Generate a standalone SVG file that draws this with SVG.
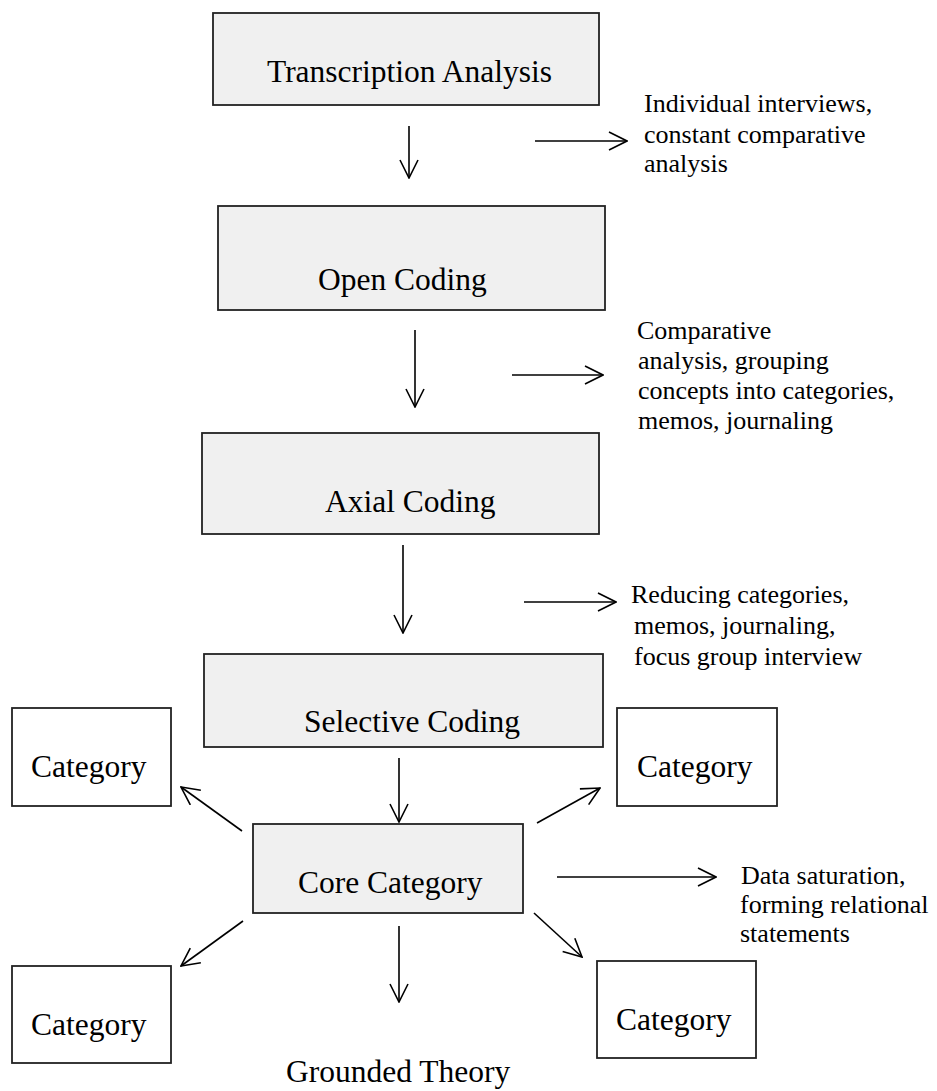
<svg xmlns="http://www.w3.org/2000/svg" width="937" height="1091" viewBox="0 0 937 1091">
<style>
.box{fill:#f0f0f0;stroke:#222;stroke-width:1.8}
.cat{fill:#fff;stroke:#222;stroke-width:1.8}
.big{font-family:"Liberation Serif","Times New Roman",serif;font-size:31.5px;fill:#000}
.sm{font-family:"Liberation Serif","Times New Roman",serif;font-size:26px;fill:#000}
.conn line{stroke:#000;stroke-width:1.6;fill:none;marker-end:url(#ah)}
</style>
<defs>
<marker id="ah" viewBox="0 0 20 20" refX="19" refY="10" markerWidth="20" markerHeight="20" markerUnits="userSpaceOnUse" orient="auto">
<path d="M1,1 L19,10 L1,19" fill="none" stroke="#000" stroke-width="1.6"/>
</marker>
</defs>
<rect width="937" height="1091" fill="#fff"/>
<g id="transcription"><rect class="box" x="213" y="13" width="386" height="92"/><text class="big" x="267" y="82">Transcription Analysis</text></g>
<g id="open"><rect class="box" x="218" y="206" width="387" height="104"/><text class="big" x="318" y="290">Open Coding</text></g>
<g id="axial"><rect class="box" x="202" y="433" width="397" height="101"/><text class="big" x="325" y="512">Axial Coding</text></g>
<g id="selective"><rect class="box" x="204" y="654" width="399" height="93"/><text class="big" x="304" y="732">Selective Coding</text></g>
<g id="core"><rect class="box" x="253" y="824" width="270" height="89"/><text class="big" x="298" y="893">Core Category</text></g>
<g id="cat-tl"><rect class="cat" x="12" y="708" width="159" height="98"/><text class="big" x="31" y="777">Category</text></g>
<g id="cat-tr"><rect class="cat" x="617" y="708" width="160" height="98"/><text class="big" x="637" y="777">Category</text></g>
<g id="cat-bl"><rect class="cat" x="12" y="966" width="159" height="97"/><text class="big" x="31" y="1035">Category</text></g>
<g id="cat-br"><rect class="cat" x="597" y="961" width="159" height="97"/><text class="big" x="616" y="1030">Category</text></g>
<g id="grounded"><text class="big" x="286" y="1082">Grounded Theory</text></g>
<g id="note1"><text class="sm" x="644" y="112">Individual interviews,</text><text class="sm" x="644" y="143">constant comparative</text><text class="sm" x="644" y="172">analysis</text></g>
<g id="note2"><text class="sm" x="637" y="339">Comparative</text><text class="sm" x="638" y="369">analysis, grouping</text><text class="sm" x="638" y="399">concepts into categories,</text><text class="sm" x="638" y="429">memos, journaling</text></g>
<g id="note3"><text class="sm" x="631" y="603">Reducing categories,</text><text class="sm" x="634" y="634">memos, journaling,</text><text class="sm" x="634" y="665">focus group interview</text></g>
<g id="note4"><text class="sm" x="741" y="884">Data saturation,</text><text class="sm" x="740" y="913">forming relational</text><text class="sm" x="740" y="942">statements</text></g>
<g class="conn" id="connectors">
<line x1="409" y1="126" x2="409" y2="178"/>
<line x1="415" y1="330" x2="415" y2="407"/>
<line x1="403" y1="545" x2="403" y2="633"/>
<line x1="399" y1="758" x2="399" y2="822"/>
<line x1="399" y1="926" x2="399" y2="1002"/>
<line x1="535" y1="141" x2="627" y2="141"/>
<line x1="512" y1="375" x2="603" y2="375"/>
<line x1="524" y1="602" x2="616" y2="602"/>
<line x1="557" y1="877" x2="716" y2="877"/>
<line x1="242" y1="831" x2="181" y2="787"/>
<line x1="537" y1="823" x2="600" y2="788"/>
<line x1="243" y1="921" x2="181" y2="966"/>
<line x1="534" y1="913" x2="582" y2="957"/>
</g>
</svg>
